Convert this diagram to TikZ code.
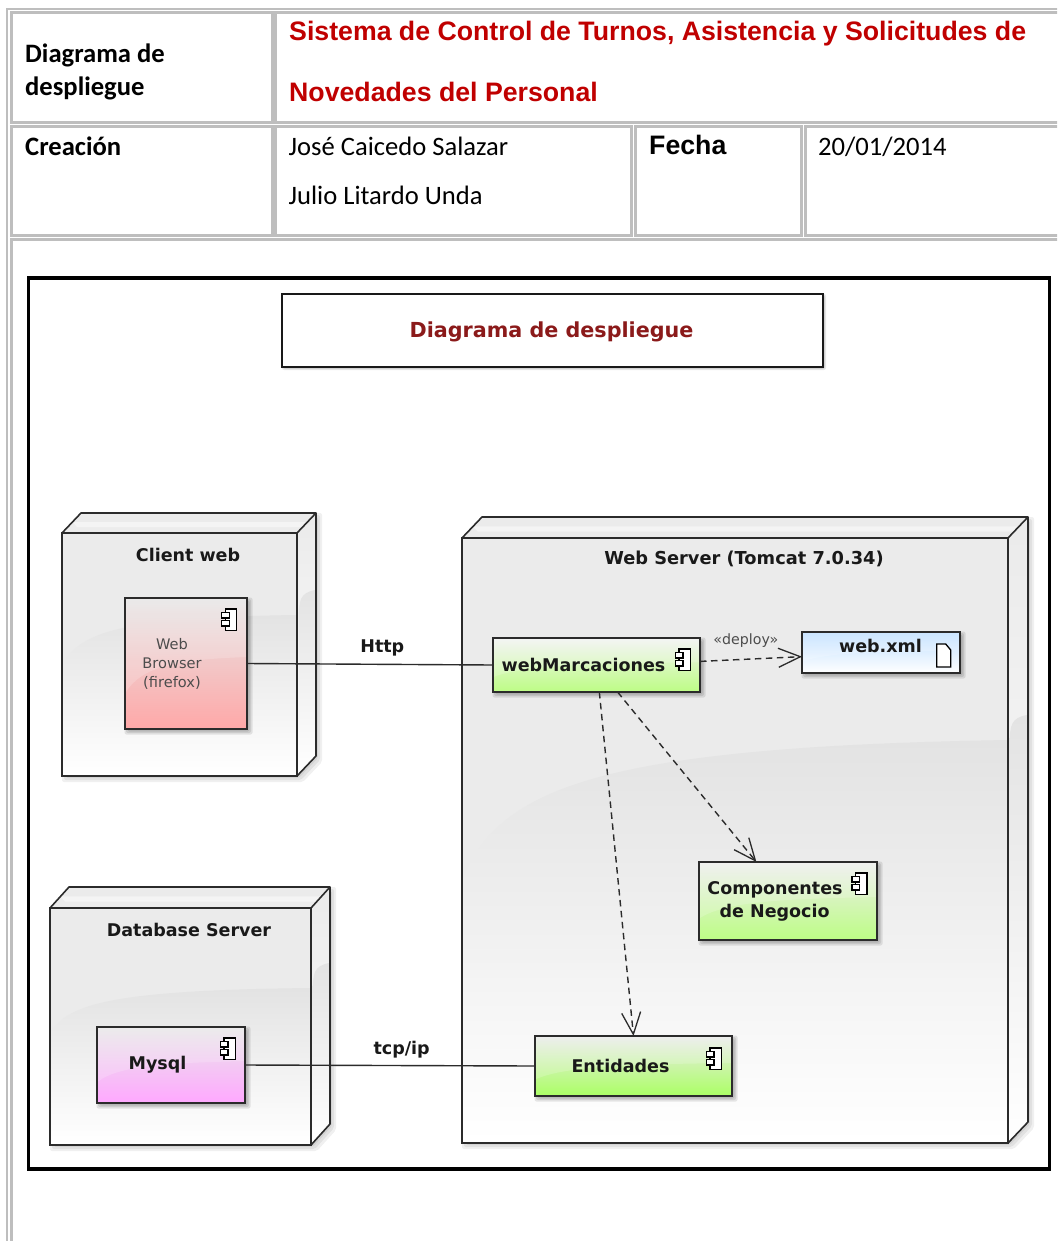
\documentclass[tikz,border=0pt]{standalone}
\usepackage{fontspec}
\setmainfont{Carlito}
\newfontfamily\arialfont{Liberation Sans}
\newfontfamily\dejafont{DejaVu Sans}
\usetikzlibrary{arrows.meta,calc}
\definecolor{cellgray}{HTML}{BEBEBE}
\definecolor{titlered}{HTML}{C00000}
\definecolor{darkred}{HTML}{8B1A1A}
\definecolor{inkline}{HTML}{2B2B2B}
\definecolor{bluetop}{HTML}{BFDFFF}
\definecolor{greenlow}{HTML}{BDFD85}
\definecolor{greenlime}{HTML}{ABFF64}
\definecolor{pinklow}{HTML}{FFA8A8}
\definecolor{magentalow}{HTML}{FFA8FF}
\tikzset{
  cell/.style={draw=cellgray,line width=3pt,fill=white},
  celltext/.style={anchor=base west,inner sep=0pt,font=\fontsize{26.6}{26.6}\selectfont,text=black},
  cellbold/.style={celltext,font=\fontsize{26.6}{26.6}\selectfont\bfseries},
  headtext/.style={anchor=base west,inner sep=0pt,text=titlered,font=\arialfont\bfseries\fontsize{26.7}{26.7}\selectfont},
  deploynode/.style={draw=inkline,line width=1.6pt,inner sep=0pt,outer sep=0pt},
  comp/.style={draw=inkline,line width=1.6pt,inner sep=0pt,outer sep=0pt},
  difflabel/.style={inner sep=0pt,text=black!90,font=\dejafont\bfseries\fontsize{17.5}{23}\selectfont},
  plainlabel/.style={inner sep=0pt,text=black!70,font=\dejafont\fontsize{14.6}{19}\selectfont,align=center},
  softshade/.style={fill=black,opacity=.09,rounded corners=2pt},
  link/.style={draw=inkline,line width=1.4pt},
  dep/.style={draw=inkline,line width=1.4pt,dashed,dash pattern=on 6.5pt off 4.5pt,
    -{Straight Barb[length=22pt,width=19pt,line width=1.3pt]}},
  iconline/.style={draw=black,line width=1.3pt,fill=white},
  compicon/.pic={
    \path[iconline] (3.5,0) rectangle (15,21.5);
    \path[iconline] (0,3.5) rectangle (7.5,9);
    \path[iconline] (0,11.5) rectangle (7.5,17);
  },
  docicon/.pic={
    \path[iconline] (0,0) -- (9,0) -- (14,6) -- (14,23) -- (0,23) -- cycle;
  }
}
% name, left, top, right, bottom, dx, dy, swoosh y left, swoosh y right
\newcommand{\deployat}[9]{%
  \foreach \s in {1,3,5}{
    \path[softshade,opacity=.06] (#2+5-\s,#3+5-\s) -- (#2+#6+5-\s,#3-#7+5-\s) -- (#4+#6+1+\s,#3-#7+5-\s) -- (#4+#6+1+\s,#5-#7+1+\s) -- (#4+1+\s,#5+1+\s) -- (#2+5-\s,#5+1+\s) -- cycle;
  }
  \path[top color=black!8,bottom color=white] (#2,#3) -- (#2+#6,#3-#7) -- (#4+#6,#3-#7) -- (#4+#6,#5-#7) -- (#4,#5) -- cycle;
  \path[fill=white,opacity=.45] (#2+#6*.55,#3-#7*.55) -- (#4+#6*.5,#3-#7*.55) -- (#4+#6*.3,#3-#7*.3) -- (#2+#6*.8,#3-#7*.3) -- cycle;
  \node[deploynode,fill=black!8,minimum width={(#4-#2)*1pt},minimum height={(#5-#3)*1pt}] (#1) at ({(#2+#4)/2},{(#3+#5)/2}) {};
  \path[top color=black!11,bottom color=white] (#2+1,#8) .. controls ({#2+.07*(#4-#2)},{#9+.35*(#8-#9)}) and ({#2+.25*(#4-#2)},{#9+.05*(#8-#9)}) .. (#4-1,#9) -- (#4-1,#5-1) -- (#2+1,#5-1) -- cycle;
  \path[top color=black!11,bottom color=white] (#4+1.5,#9+4) .. controls (#4+2,#9-15) and (#4+3,#9-22) .. (#4+#6-1,#9-25) -- (#4+#6-1,#5-#7) -- (#4+1.5,#5-2) -- cycle;
  \draw[draw=inkline,line width=1.6pt] (#1.north west) rectangle (#1.south east);
  \draw[draw=inkline,line width=1.6pt,line join=round] (#1.north west) -- ++(#6,-#7) -- ++({#4-#2},0) -- ++(0,{#5-#3}) -- (#1.south east);
  \draw[draw=inkline,line width=1.6pt] (#1.north east) -- ++(#6,-#7);
}
% name, left, top, right, bottom, top colour, bottom colour
\newcommand{\compat}[7]{%
  \foreach \s in {0,1.5,3,4.5}{
    \path[softshade] (#2+4-\s,#3+4-\s) rectangle (#4+1+\s,#5+1+\s);
  }
  \node[comp,top color=#6,bottom color=#7,minimum width={(#4-#2)*1pt},minimum height={(#5-#3)*1pt}] (#1) at ({(#2+#4)/2},{(#3+#5)/2}) {};
  \path[fill=white,opacity=.18] (#2+.8,#3+.8) -- (#4-.8,#3+.8) -- (#4-.8,{#3+.45*(#5-#3)}) .. controls ({#2+.5*(#4-#2)},{#3+.47*(#5-#3)}) and ({#2+.15*(#4-#2)},{#3+.5*(#5-#3)}) .. (#2+.8,{#3+.72*(#5-#3)}) -- cycle;
  \draw[draw=inkline,line width=1.6pt] (#1.north west) rectangle (#1.south east);
}
\begin{document}
\begin{tikzpicture}[x=1pt,y=-1pt]
\useasboundingbox (0,0) rectangle (1057,1241);
\fill[white] (0,0) rectangle (1057,1241);
% table
\begin{scope}
\clip (0,0) rectangle (1057,1241);
\draw[draw=cellgray,line width=2.6pt] (7,1250) -- (7,9) -- (1070,9);
\path[cell] (11.5,13) rectangle (272,123);
\path[cell] (275.5,13) rectangle (1075,123);
\path[cell] (11.5,127) rectangle (272,236);
\path[cell] (275.5,127) rectangle (631,236);
\path[cell] (635.5,127) rectangle (801,236);
\path[cell] (805.5,127) rectangle (1075,236);
\path[cell] (11.5,240) rectangle (1075,1260);
\end{scope}
\node[cellbold] (t1) at (25,63) {Diagrama de};
\node[cellbold] (t2) at (25,96) {despliegue};
\node[headtext] (t3) at (289,41) {Sistema de Control de Turnos, Asistencia y Solicitudes de};
\node[headtext] (t4) at (289,102) {Novedades del Personal};
\node[cellbold] (t5) at (25,156) {Creación};
\node[celltext] (t6) at (288.5,156) {José Caicedo Salazar};
\node[celltext] (t7) at (288.5,205) {Julio Litardo Unda};
\node[headtext,text=black] (t8) at (649,155) {Fecha};
\node[celltext] (t9) at (818,156) {20/01/2014};
% frame
\node[draw=black,line width=3.2pt,fill=white,inner sep=0pt,outer sep=0pt,minimum width=1021pt,minimum height=891pt] (frame) at (539,723.5) {};
\foreach \s in {0,1,2}{
  \path[softshade] (284-\s,296-\s) rectangle (824+\s,368+\s);
}
\node[draw=black!90,line width=2.2pt,fill=white,inner sep=0pt,outer sep=0pt,minimum width=541pt,minimum height=73pt] (titlebox) at (552.5,330.5) {};
\node[inner sep=0pt,text=darkred,font=\dejafont\bfseries\fontsize{20.7}{24}\selectfont] (titletext) at (551.5,331.5) {Diagrama de despliegue};
% deployment nodes
\deployat{client}{62}{533}{297}{776}{19}{20}{665}{615}
\deployat{server}{462}{538}{1008}{1143}{20}{21}{878}{740}
\deployat{database}{50}{908}{311}{1145}{19}{21}{1032}{988}
\node[difflabel] (clientlabel) at (188,554.5) {Client web};
\node[difflabel,font=\dejafont\bfseries\fontsize{17.8}{23}\selectfont] (serverlabel) at (744,559) {Web Server (Tomcat 7.0.34)};
\node[difflabel] (dblabel) at (189,929.5) {Database Server};
% components
\compat{browser}{125}{598}{247}{729}{black!10}{pinklow}
\compat{webm}{493}{638}{700}{692}{black!5}{greenlow}
\compat{xml}{802}{632}{960}{673}{bluetop}{white}
\compat{negocio}{699}{862}{877}{940}{black!7}{greenlow}
\compat{entidades}{535}{1036}{732}{1096}{black!8}{greenlime}
\compat{mysql}{97}{1027}{245}{1103}{black!9}{magentalow}
\pic at (221.7,609) {compicon};
\pic at (675.5,649) {compicon};
\pic at (852,873) {compicon};
\pic at (706.5,1048) {compicon};
\pic at (220.5,1038) {compicon};
\pic at (936.7,644) {docicon};
\node[plainlabel] (browserlabel) at (172,663.5) {Web\\Browser\\(firefox)};
\node[difflabel] (webmlabel) at (583.5,664.5) {webMarcaciones};
\node[difflabel] (xmllabel) at (880.5,646) {web.xml};
\node[difflabel,align=left] (negociolabel) at (775,901.5) {Componentes\\\ \ de Negocio};
\node[difflabel] (entlabel) at (620.5,1065.5) {Entidades};
\node[difflabel] (mysqllabel) at (157.5,1065) {Mysql};
% connectors
\draw[link] (browser.east) -- node[pos=.55,above=7pt,difflabel] (httplabel) {Http} (webm.west);
\draw[link] (mysql.east) -- node[pos=.54,above=7pt,difflabel] (tcplabel) {tcp/ip} (entidades.west);
\draw[dep] (webm.2.2) -- node[pos=.45,above=11pt,plainlabel,font=\dejafont\fontsize{14.2}{17}\selectfont] (deploylabel) {«deploy»} (xml.183.3);
\draw[dep] (webm.-52.8) -- (negocio.129.4);
\draw[dep] (webm.-84.7) -- (entidades.north);
\end{tikzpicture}
\end{document}
